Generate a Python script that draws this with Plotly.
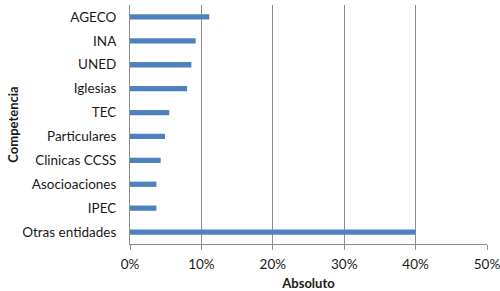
import plotly.graph_objects as go

categories = ["Otras entidades", "IPEC", "Asocioaciones", "Clinicas CCSS", "Particulares",
              "TEC", "Iglesias", "UNED", "INA", "AGECO"]
values = [0.40, 0.037, 0.037, 0.043, 0.049, 0.055, 0.080, 0.086, 0.092, 0.111]
x_ticks = [0, 0.1, 0.2, 0.3, 0.4, 0.5]

font_family = "Lato, 'Open Sans', sans-serif"

fig = go.Figure(go.Bar(
    y=categories, x=values, orientation="h",
    marker=dict(color="#4F81BD", line=dict(width=0)),
))

fig.update_layout(
    width=500, height=291,
    margin=dict(l=130, r=13, t=5, b=47),
    paper_bgcolor="white", plot_bgcolor="white",
    bargap=0.78,
    showlegend=False,
    font=dict(family=font_family, size=13.5, color="#1a1a1a"),
    xaxis=dict(
        range=[0, 0.5], tickvals=x_ticks, tickformat=".0%",
        showgrid=True, gridcolor="#8c8c8c", gridwidth=1,
        showline=True, linecolor="#8c8c8c", linewidth=1,
        ticks="outside", ticklen=5, tickcolor="#8c8c8c",
        zeroline=False, ticklabeloverflow="allow", ticklabelstandoff=3,
        automargin=False,
        title=dict(text="<b>Absoluto</b>", font=dict(size=13), standoff=8),
        tickfont=dict(size=13.5),
    ),
    yaxis=dict(
        showgrid=False, showline=True, linecolor="#8c8c8c", linewidth=1,
        ticks="", ticklabelstandoff=10, automargin=False,
        title=dict(text="<b>Competencia</b>", font=dict(size=13), standoff=0),
        tickfont=dict(size=13.5),
    ),
)

fig.write_html("out.html")
